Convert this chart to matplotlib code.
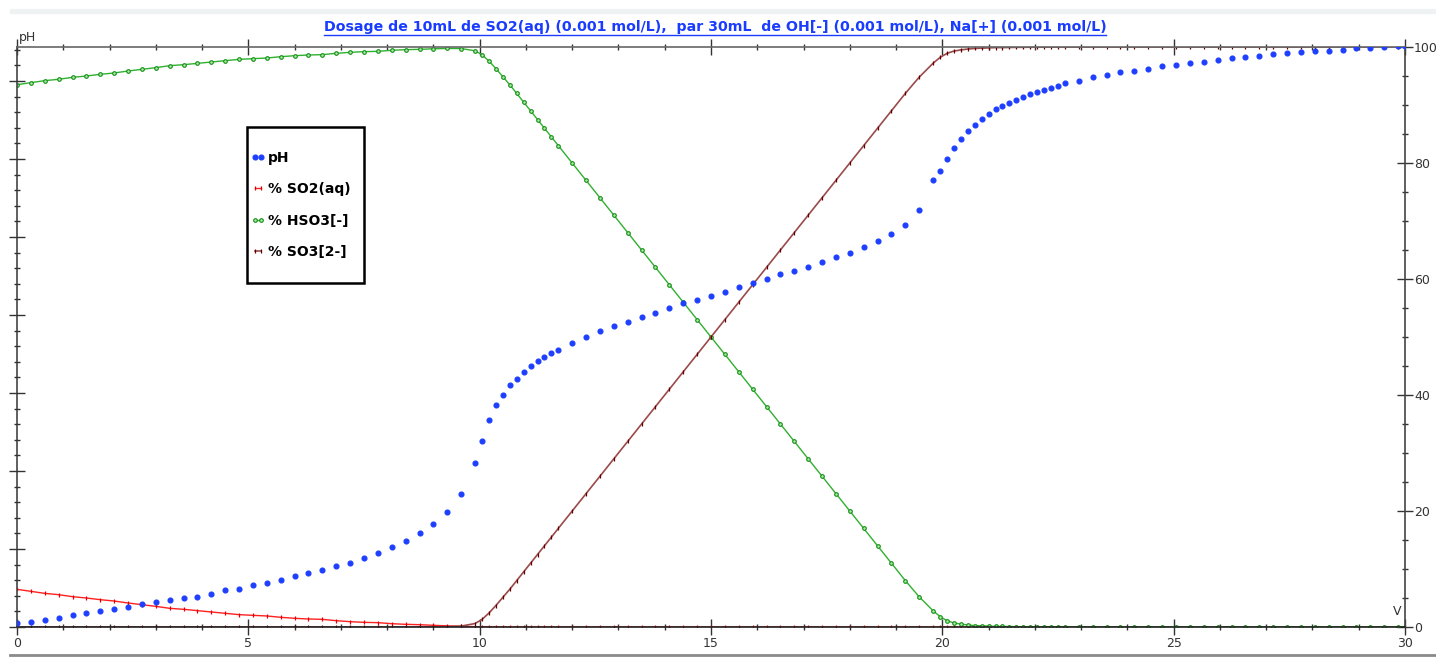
import matplotlib
matplotlib.use("Agg")
import matplotlib.pyplot as plt
from matplotlib.lines import Line2D
from matplotlib.patches import Rectangle
from matplotlib.ticker import MultipleLocator

# volumes (mL) - finer steps around the two equivalence points
v = [0.0, 0.3, 0.6, 0.9, 1.2, 1.5, 1.8, 2.1, 2.4, 2.7, 3.0, 3.3, 3.6, 3.9, 4.2, 4.5, 4.8,
     5.1, 5.4, 5.7, 6.0, 6.3, 6.6, 6.9, 7.2, 7.5, 7.8, 8.1, 8.4, 8.7, 9.0, 9.3, 9.6, 9.9,
     10.05, 10.2, 10.35, 10.5, 10.65, 10.8, 10.95, 11.1, 11.25, 11.4, 11.55, 11.7,
     12.0, 12.3, 12.6, 12.9, 13.2, 13.5, 13.8, 14.1, 14.4, 14.7, 15.0, 15.3, 15.6, 15.9,
     16.2, 16.5, 16.8, 17.1, 17.4, 17.7, 18.0, 18.3, 18.6, 18.9, 19.2, 19.5, 19.8,
     19.95, 20.1, 20.25, 20.4, 20.55, 20.7, 20.85, 21.0, 21.15, 21.3, 21.45, 21.6, 21.75,
     21.9, 22.05, 22.2, 22.35, 22.5, 22.65,
     22.95, 23.25, 23.55, 23.85, 24.15, 24.45, 24.75, 25.05, 25.35, 25.65, 25.95, 26.25,
     26.55, 26.85, 27.15, 27.45, 27.75, 28.05, 28.35, 28.65, 28.95, 29.25, 29.55, 29.85, 30.0]

ph = [3.05, 3.06, 3.09, 3.12, 3.15, 3.18, 3.21, 3.23, 3.26, 3.29, 3.32, 3.34, 3.37, 3.39, 3.42, 3.47, 3.49,
      3.54, 3.56, 3.60, 3.65, 3.69, 3.73, 3.78, 3.82, 3.89, 3.95, 4.02, 4.10, 4.20, 4.32, 4.47, 4.70, 5.10,
      5.39, 5.65, 5.84, 5.98, 6.10, 6.18, 6.27, 6.34, 6.41, 6.46, 6.51, 6.55,
      6.64, 6.72, 6.79, 6.86, 6.91, 6.98, 7.03, 7.09, 7.15, 7.19, 7.24, 7.29, 7.36, 7.41,
      7.46, 7.52, 7.57, 7.62, 7.68, 7.74, 7.80, 7.87, 7.95, 8.04, 8.16, 8.34, 8.73,
      8.85, 9.00, 9.14, 9.26, 9.36, 9.44, 9.51, 9.58, 9.64, 9.68, 9.72, 9.76,
      9.80, 9.83, 9.86, 9.88, 9.91, 9.94, 9.97,
      10.00, 10.05, 10.08, 10.11, 10.13, 10.16, 10.19, 10.21, 10.23, 10.25, 10.27, 10.29,
      10.31, 10.32, 10.34, 10.36, 10.37, 10.38, 10.39, 10.40, 10.42, 10.42, 10.43, 10.45, 10.45]

so2 = [6.49, 6.15, 5.80, 5.57, 5.23, 5.00, 4.71, 4.48, 4.14, 3.85, 3.56, 3.22, 3.05, 2.82, 2.59, 2.36, 2.13,
       2.01, 1.90, 1.67, 1.50, 1.38, 1.32, 1.09, 0.92, 0.80, 0.75, 0.57, 0.46, 0.40, 0.29, 0.20, 0.12, 0.05,
       0.03, 0.02, 0.01, 0.01, 0.0, 0.0, 0.0, 0.0, 0.0, 0.0, 0.0, 0.0,
       0.0, 0.0, 0.0, 0.0, 0.0, 0.0, 0.0, 0.0, 0.0, 0.0, 0.0, 0.0, 0.0, 0.0,
       0.0, 0.0, 0.0, 0.0, 0.0, 0.0, 0.0, 0.0, 0.0, 0.0, 0.0, 0.0, 0.0,
       0.0, 0.0, 0.0, 0.0, 0.0, 0.0, 0.0, 0.0, 0.0, 0.0, 0.0, 0.0,
       0.0, 0.0, 0.0, 0.0, 0.0, 0.0, 0.0,
       0.0, 0.0, 0.0, 0.0, 0.0, 0.0, 0.0, 0.0, 0.0, 0.0, 0.0, 0.0,
       0.0, 0.0, 0.0, 0.0, 0.0, 0.0, 0.0, 0.0, 0.0, 0.0, 0.0, 0.0, 0.0]

hso3 = [93.50, 93.85, 94.20, 94.43, 94.77, 95.00, 95.29, 95.52, 95.86, 96.15, 96.44, 96.78, 96.95, 97.18, 97.41, 97.64, 97.87,
        97.99, 98.10, 98.33, 98.50, 98.62, 98.68, 98.91, 99.08, 99.20, 99.25, 99.43, 99.54, 99.60, 99.69, 99.75, 99.73, 99.35,
        98.67, 97.58, 96.29, 94.89, 93.50, 92.00, 90.50, 89.00, 87.50, 86.00, 84.50, 83.00,
        80.0, 77.0, 74.0, 71.0, 68.0, 65.0, 62.0, 59.0, 56.0, 53.0, 50.0, 47.0, 44.0, 41.0,
        38.0, 35.0, 32.0, 29.0, 26.0, 23.0, 20.0, 17.0, 14.0, 11.0, 8.0, 5.2, 2.8,
        1.8, 1.1, 0.7, 0.5, 0.35, 0.25, 0.2, 0.15, 0.1, 0.1, 0.08, 0.06,
        0.05, 0.04, 0.03, 0.03, 0.02, 0.02, 0.02,
        0.01, 0.01, 0.01, 0.01, 0.01, 0.01, 0.01, 0.01, 0.01, 0.01, 0.01, 0.01,
        0.01, 0.01, 0.01, 0.01, 0.01, 0.01, 0.01, 0.01, 0.01, 0.01, 0.01, 0.01, 0.01]

so3 = [0.0, 0.0, 0.0, 0.0, 0.0, 0.0, 0.0, 0.0, 0.0, 0.0, 0.0, 0.0, 0.0, 0.0, 0.0, 0.0, 0.0,
       0.0, 0.0, 0.0, 0.0, 0.0, 0.0, 0.0, 0.0, 0.0, 0.0, 0.0, 0.0, 0.0, 0.02, 0.05, 0.15, 0.6,
       1.3, 2.4, 3.7, 5.1, 6.5, 8.0, 9.5, 11.0, 12.5, 14.0, 15.5, 17.0,
       20.0, 23.0, 26.0, 29.0, 32.0, 35.0, 38.0, 41.0, 44.0, 47.0, 50.0, 53.0, 56.0, 59.0,
       62.0, 65.0, 68.0, 71.0, 74.0, 77.0, 80.0, 83.0, 86.0, 89.0, 92.0, 94.8, 97.2,
       98.2, 98.9, 99.3, 99.5, 99.65, 99.75, 99.8, 99.85, 99.9, 99.9, 99.92, 99.94,
       99.95, 99.96, 99.97, 99.97, 99.98, 99.98, 99.98,
       99.99, 99.99, 99.99, 99.99, 99.99, 99.99, 99.99, 99.99, 99.99, 99.99, 99.99, 99.99,
       99.99, 99.99, 99.99, 99.99, 99.99, 99.99, 99.99, 99.99, 99.99, 99.99, 99.99, 99.99, 99.99]

title = "Dosage de 10mL de SO2(aq) (0.001 mol/L),  par 30mL  de OH[-] (0.001 mol/L), Na[+] (0.001 mol/L)"

W, H = 1436, 657
fig = plt.figure(figsize=(W / 100, H / 100), dpi=100)
x0, x1, y0, y1 = 17, 1405, 47, 627   # plot area in pixels
ax = fig.add_axes([x0 / W, 1 - y1 / H, (x1 - x0) / W, (y1 - y0) / H])
ax2 = ax.twinx()

def px2ax(px, py):
    return (px - x0) / (x1 - x0), (y1 - py) / (y1 - y0)

# window decorations
fig.patches.append(Rectangle((10 / W, 1 - 13 / H), 1, 4 / H, transform=fig.transFigure,
                             color="#eef2f2", zorder=0))
fig.lines.append(Line2D([10 / W, 1], [1 - 655 / H, 1 - 655 / H], transform=fig.transFigure,
                        color="#8a8a8a", lw=2))

# percentage curves (axis on the right)
l_so2, = ax.plot(v, so2, color="#ff2020", lw=1.0, marker="|", ms=3, mew=0.9, mec="#e00000",
                 label="% SO2(aq)")
l_hso3, = ax.plot(v, hso3, color="#30b030", lw=1.0, marker="o", ms=2.6, mew=0.8,
                  mec="#109010", mfc="#b0e8b0", label="% HSO3[-]")
l_so3, = ax.plot(v, so3, color="#9a4a4a", lw=1.2, marker="|", ms=3, mew=0.9, mec="#600000",
                 label="% SO3[2-]")

# pH on the left axis, drawn on top
l_ph, = ax2.plot(v, ph, ls="none", marker="o", ms=3.4, color="#1f3fff", mec="#1f3fff",
                 label="pH")

ax.set_xlim(0, 30)
ax.set_ylim(0, 100)
ax2.set_ylim(3.0, 3.0 + (y1 - y0) / 78)

ax.yaxis.tick_right()
ax2.yaxis.tick_left()
ax.xaxis.set_ticks_position("both")

for a in (ax, ax2):
    for s in a.spines.values():
        s.set_visible(False)
for side in ("left", "right", "top", "bottom"):
    ax.spines[side].set_visible(True)
    ax.spines[side].set_linewidth(1.2)
ax.spines["left"].set_color("#444444")
ax.spines["right"].set_color("#444444")
ax.spines["top"].set_color("#666666")
ax.spines["bottom"].set_color("#222222")

ax.xaxis.set_major_locator(MultipleLocator(5))
ax.xaxis.set_minor_locator(MultipleLocator(1))
ax.yaxis.set_major_locator(MultipleLocator(20))
ax.yaxis.set_minor_locator(MultipleLocator(5))
ax2.yaxis.set_major_locator(MultipleLocator(1))
ax2.yaxis.set_minor_locator(MultipleLocator(0.2))

for a in (ax, ax2):
    a.tick_params(which="major", direction="inout", length=11, width=1, color="#333333",
                  labelsize=9, labelcolor="#333333")
    a.tick_params(which="minor", direction="inout", length=5, width=1, color="#333333")
ax.tick_params(axis="x", which="both", labeltop=False, pad=2)
ax.tick_params(axis="y", pad=1)
ax2.tick_params(axis="y", which="both", labelleft=False)

ax2.annotate("pH", xy=(0, 1), xycoords="axes fraction", xytext=(1, 2), textcoords="offset points",
             ha="left", va="bottom", fontsize=9, color="#333333")
ax.text(0.9942, 0.026, "V", transform=ax.transAxes, ha="center", va="center",
        fontsize=9, color="#333333")

# legend box drawn separately so the padding can match
bx0, by0 = px2ax(247, 283)
bx1, by1 = px2ax(364, 127)
ax2.add_patch(Rectangle((bx0, by0), bx1 - bx0, by1 - by0, transform=ax2.transAxes,
                        facecolor="white", edgecolor="black", lw=1.8, zorder=4))
leg = ax2.legend(handles=[l_ph, l_so2, l_hso3, l_so3], loc="upper left",
                 bbox_to_anchor=px2ax(251, 151),
                 prop={"weight": "bold", "size": 10}, numpoints=2, handlelength=1.0,
                 handletextpad=0.25, labelspacing=1.25, borderpad=0, borderaxespad=0,
                 frameon=False)
leg.set_zorder(5)

# title, blue bold and underlined
t = fig.text(715 / W, 1 - 27 / H, title, ha="center", va="center", color="#1a3cff",
             fontsize=10, fontweight="bold")
fig.canvas.draw()
r = fig.canvas.get_renderer()
bb = t.get_window_extent(r)
t.set_fontsize(10 * 786 / bb.width)
fig.canvas.draw()
bb = t.get_window_extent(r)
yl = (bb.y0 - 1) / H
fig.lines.append(Line2D([bb.x0 / W, bb.x1 / W], [yl, yl], transform=fig.transFigure,
                        color="#1a3cff", lw=1))

fig.savefig("out.png", dpi=100)
